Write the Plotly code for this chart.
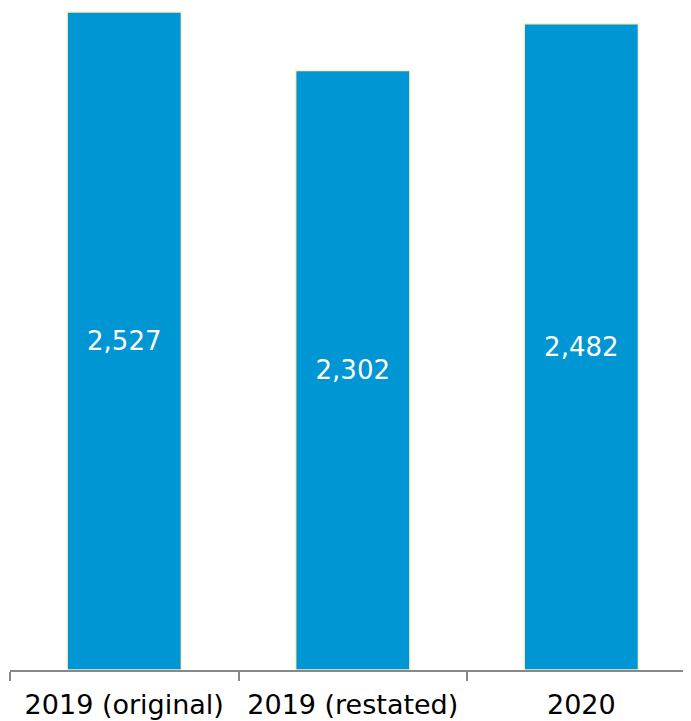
import plotly.graph_objects as go

categories = ["2019 (original)", "2019 (restated)", "2020"]
values = [2527, 2302, 2482]
labels = ["2,527", "2,302", "2,482"]

fig = go.Figure()
fig.add_trace(go.Bar(
    x=categories, y=values, text=labels,
    textposition="inside", insidetextanchor="middle",
    textfont=dict(family="DejaVu Sans", size=26, color="white"),
    marker=dict(color="#0095D3", line=dict(color="#FFF0C0", width=1.5)),
    width=0.5,
))

# page body has an 8px margin, so the figure is sized to fit the window
fig.update_layout(
    width=683, height=713,
    margin=dict(l=2, r=0, t=0, b=51, autoexpand=False),
    plot_bgcolor="white", paper_bgcolor="white",
    showlegend=False,
    font=dict(family="DejaVu Sans", color="black"),
)
fig.update_xaxes(
    type="category", range=[-0.5, 2.48], automargin=False,
    showline=True, linecolor="#888888", linewidth=1.5,
    ticks="outside", tickson="boundaries", ticklen=9, tickcolor="#888888", tickwidth=1.5,
    tickfont=dict(size=27, color="black"), ticklabelstandoff=10,
    showgrid=False,
)
fig.update_yaxes(range=[0, 2542], visible=False, showgrid=False, automargin=False)

fig.write_html("out.html")
